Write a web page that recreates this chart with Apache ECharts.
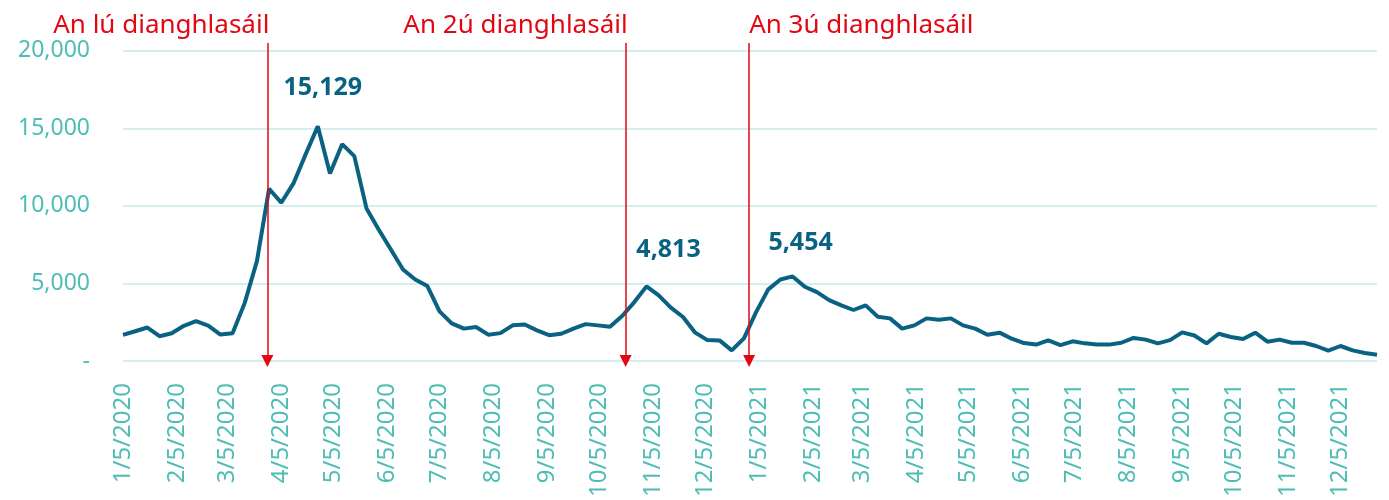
<!DOCTYPE html>
<html>
<head>
<meta charset="utf-8">
<script src="https://cdn.jsdelivr.net/npm/echarts@6/dist/echarts.min.js"></script>
<style>
  html, body { margin: 0; padding: 0; background: #fff; }
  #chart { width: 1389px; height: 500px; }
</style>
</head>
<body>
<div id="chart"></div>
<script>
// cásanna seachtainiúla, ó 5/1/2020 ar aghaidh
const firstWeek = '2020-01-05';
const weeklyCases = [
  1690, 1920, 2160, 1600, 1790, 2270, 2570, 2290, 1710, 1790,
  3750, 6440, 11110, 10200, 11450, 13320, 15129, 12090, 13980, 13210,
  9840, 8480, 7190, 5900, 5260, 4830, 3200, 2430, 2090, 2190,
  1700, 1800, 2300, 2360, 1980, 1670, 1760, 2090, 2380, 2300,
  2210, 2900, 3800, 4813, 4230, 3440, 2840, 1830, 1350, 1330,
  690, 1460, 3150, 4620, 5260, 5454, 4790, 4440, 3930, 3590,
  3290, 3590, 2860, 2750, 2090, 2300, 2750, 2660, 2750, 2300,
  2090, 1700, 1830, 1440, 1160, 1060, 1330, 1030, 1270, 1140,
  1060, 1060, 1180, 1490, 1380, 1140, 1350, 1850, 1650, 1140,
  1760, 1550, 1420, 1830, 1250, 1380, 1180, 1180, 970, 670,
  970, 690, 520, 410
];

// lipéid na x-ais
const monthLabels = [
  '1/5/2020', '2/5/2020', '3/5/2020', '4/5/2020', '5/5/2020', '6/5/2020',
  '7/5/2020', '8/5/2020', '9/5/2020', '10/5/2020', '11/5/2020', '12/5/2020',
  '1/5/2021', '2/5/2021', '3/5/2021', '4/5/2021', '5/5/2021', '6/5/2021',
  '7/5/2021', '8/5/2021', '9/5/2021', '10/5/2021', '11/5/2021', '12/5/2021'
];

// dianghlasáil
const lockdownDates = ['2020-03-28', '2020-10-20', '2020-12-30'];
const lockdownNames = ['An lú dianghlasáil', 'An 2ú dianghlasáil', 'An 3ú dianghlasáil'];

// buaicphointí
const peakIndex = [16, 43, 55];

const DAY = 24 * 3600 * 1000;
const t0 = Date.parse(firstWeek + 'T00:00:00Z');
const seriesData = weeklyCases.map((v, i) => [t0 + i * 7 * DAY, v]);

const monthTicks = monthLabels.map(s => {
  let p = s.split('/');
  return Date.UTC(+p[2], +p[0] - 1, +p[1]);
});

const teal = '#4dbdb6';
const red = '#e30613';
const lineColor = '#0a6282';
const font = 'Noto Sans';

const chart = echarts.init(document.getElementById('chart'), null, { renderer: 'canvas' });

const option = {
  animation: false,
  grid: { left: 123, right: 12, top: 43, bottom: 138.5 },
  xAxis: {
    type: 'value',
    min: seriesData[0][0],
    max: seriesData[seriesData.length - 1][0],
    axisLine: { show: false },
    axisTick: { show: false },
    splitLine: { show: false },
    axisLabel: {
      customValues: monthTicks,
      rotate: 90,
      margin: 22,
      color: teal,
      fontFamily: font,
      fontSize: 24,
      formatter: function (val) {
        let i = monthTicks.indexOf(val);
        return i >= 0 ? monthLabels[i] : '';
      }
    }
  },
  yAxis: {
    type: 'value',
    min: 0,
    max: 20500, // barr na saighead
    interval: 5000,
    axisLine: { show: false },
    axisTick: { show: false },
    splitLine: { showMaxLine: false, lineStyle: { color: '#d4eeed', width: 2 } },
    axisLabel: {
      showMaxLabel: false,
      margin: 33,
      color: teal,
      fontFamily: font,
      fontSize: 23,
      formatter: v => v === 0 ? '-' : v.toLocaleString('en-US')
    }
  },
  series: [{
    type: 'line',
    data: seriesData,
    showSymbol: false,
    lineStyle: { color: lineColor, width: 4 },
    markPoint: {
      symbol: 'circle',
      symbolSize: 0,
      label: {
        show: true,
        color: lineColor,
        fontFamily: font,
        fontWeight: 'bold',
        fontSize: 25,
        formatter: p => p.value.toLocaleString('en-US')
      },
      data: peakIndex.map((k, j) => ({
        coord: seriesData[k],
        value: weeklyCases[k],
        label: { offset: [[5, -38], [22, -37], [8, -34]][j] }
      }))
    },
    markLine: {
      silent: true,
      symbol: ['none', 'triangle'],
      symbolSize: [12, 12],
      lineStyle: { color: red, width: 1.5, type: 'solid' },
      label: {
        show: true,
        position: 'start',
        color: red,
        fontFamily: font,
        fontSize: 26,
        distance: 4
      },
      data: lockdownDates.map((d, j) => {
        let t = Date.parse(d + 'T00:00:00Z');
        return [
          {
            coord: [t, 20500],
            label: {
              formatter: lockdownNames[j],
              align: j < 2 ? 'right' : 'left',
              offset: j < 2 ? [2, 0] : [0, 0]
            }
          },
          { coord: [t, 0] }
        ];
      })
    }
  }]
};

chart.setOption(option);
</script>
</body>
</html>
